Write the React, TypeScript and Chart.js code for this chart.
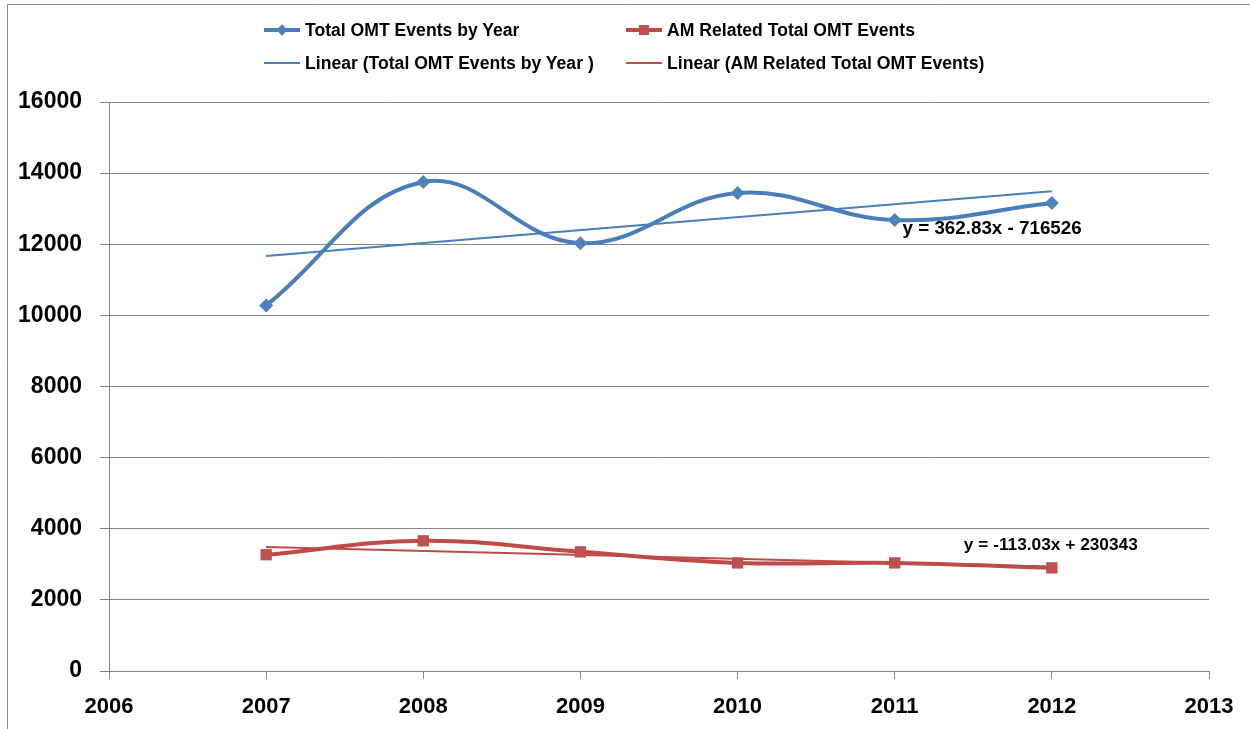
import React, { useEffect, useRef } from "react";
import { Chart, registerables } from "chart.js";

Chart.register(...registerables);

const years = [2007, 2008, 2009, 2010, 2011, 2012];
const totalEvents = [10280, 13750, 12030, 13440, 12680, 13160];
const amEvents = [3270, 3660, 3350, 3040, 3040, 2900];
const trendYears = [2007, 2012];
const totalTrend = [11670, 13490];
const amTrend = [3490, 2930];
const totalEquation = "y = 362.83x - 716526";
const amEquation = "y = -113.03x + 230343";
const legendLabels = [
  "Total OMT Events by Year",
  "AM Related Total OMT Events",
  "Linear (Total OMT Events by Year )",
  "Linear (AM Related Total OMT Events)",
];

const BLUE = "#4A7EBB";
const BLUE_FILL = "#4F81BD";
const RED = "#BE4B48";
const RED_FILL = "#C0504D";
const GRID = "#868686";
const FONT = '"Liberation Sans", Arial, sans-serif';

const pts = (xs: number[], ys: number[]) => xs.map((x, i) => ({ x, y: ys[i] }));

const frameAndLabels = {
  id: "frameAndLabels",
  afterDatasetsDraw(chart: any) {
    const { ctx, scales } = chart;
    ctx.save();
    ctx.strokeStyle = "#8c8c8c";
    ctx.lineWidth = 1;
    ctx.beginPath();
    ctx.moveTo(7.5, 729);
    ctx.lineTo(7.5, 4.5);
    ctx.lineTo(1250, 4.5);
    ctx.stroke();
    ctx.fillStyle = "#000";
    ctx.textAlign = "left";
    ctx.textBaseline = "middle";
    ctx.font = `bold 18.8px ${FONT}`;
    ctx.fillText(totalEquation, scales.x.getPixelForValue(2011.05), scales.y.getPixelForValue(12420));
    ctx.font = `bold 17.3px ${FONT}`;
    ctx.fillText(amEquation, scales.x.getPixelForValue(2011.44), scales.y.getPixelForValue(3550));
    ctx.restore();
  },
};

function LegendItem({ left, top, color, label, marker }: any) {
  return (
    <div style={{ position: "absolute", left, top, display: "flex", alignItems: "center", height: 24 }}>
      <div style={{ position: "relative", width: 40, height: 24 }}>
        <div
          style={{
            position: "absolute",
            left: 2,
            width: 36,
            top: marker ? 10 : 11,
            height: marker ? 4 : 2,
            background: color,
          }}
        />
        {marker === "diamond" && (
          <div
            style={{
              position: "absolute",
              left: 16,
              top: 8,
              width: 8,
              height: 8,
              background: BLUE_FILL,
              transform: "rotate(45deg)",
            }}
          />
        )}
        {marker === "square" && (
          <div style={{ position: "absolute", left: 15, top: 7, width: 10, height: 10, background: RED_FILL }} />
        )}
      </div>
      <span style={{ fontFamily: FONT, fontWeight: "bold", fontSize: 17.6, color: "#000", marginLeft: 3, whiteSpace: "nowrap" }}>
        {label}
      </span>
    </div>
  );
}

export default function App() {
  const ref = useRef<HTMLCanvasElement>(null);
  useEffect(() => {
    document.body.style.margin = "0";
    const chart = new Chart(ref.current as HTMLCanvasElement, {
      type: "line",
      data: {
        datasets: [
          {
            label: legendLabels[0],
            data: pts(years, totalEvents),
            borderColor: BLUE,
            backgroundColor: BLUE_FILL,
            borderWidth: 4,
            pointStyle: "rectRot",
            pointRadius: 7,
            pointBorderWidth: 0,
            pointBackgroundColor: BLUE_FILL,
            tension: 0.4,
          },
          {
            label: legendLabels[1],
            data: pts(years, amEvents),
            borderColor: RED,
            backgroundColor: RED_FILL,
            borderWidth: 4,
            pointStyle: "rect",
            pointRadius: 8,
            pointBorderWidth: 0,
            pointBackgroundColor: RED_FILL,
            tension: 0.4,
          },
          {
            label: legendLabels[2],
            data: pts(trendYears, totalTrend),
            borderColor: BLUE,
            borderWidth: 2,
            pointRadius: 0,
            tension: 0,
          },
          {
            label: legendLabels[3],
            data: pts(trendYears, amTrend),
            borderColor: RED,
            borderWidth: 2,
            pointRadius: 0,
            tension: 0,
          },
        ],
      },
      options: {
        animation: false,
        responsive: false,
        layout: { padding: { left: 7, right: 41, top: 102, bottom: 0 } },
        plugins: { legend: { display: false }, tooltip: { enabled: false } },
        scales: {
          x: {
            type: "linear",
            min: 2006,
            max: 2013,
            afterFit: (s: any) => {
              s.height = 58;
            },
            ticks: {
              stepSize: 1,
              callback: (v: any) => String(v),
              color: "#000",
              font: { family: FONT, size: 22, weight: "bold" },
              padding: 15,
              maxRotation: 0,
            },
            grid: { drawOnChartArea: false, drawTicks: true, tickLength: 8, color: GRID },
            border: { color: GRID, width: 1 },
          },
          y: {
            min: 0,
            max: 16000,
            afterFit: (s: any) => {
              s.width = 102;
            },
            ticks: {
              stepSize: 2000,
              callback: (v: any) => String(v),
              color: "#000",
              font: { family: FONT, size: 23, weight: "bold" },
              padding: 18,
            },
            grid: { color: GRID, lineWidth: 1, tickLength: 9 },
            border: { color: GRID, width: 1 },
          },
        },
      },
      plugins: [frameAndLabels],
    } as any);
    return () => chart.destroy();
  }, []);

  return (
    <div style={{ position: "relative", width: 1250, height: 729, background: "#fff" }}>
      <canvas ref={ref} width={1250} height={729} style={{ width: 1250, height: 729, display: "block" }} />
      <LegendItem left={262} top={18} color={BLUE} label={legendLabels[0]} marker="diamond" />
      <LegendItem left={624} top={18} color={RED} label={legendLabels[1]} marker="square" />
      <LegendItem left={262} top={51} color={BLUE} label={legendLabels[2]} />
      <LegendItem left={624} top={51} color={RED} label={legendLabels[3]} />
    </div>
  );
}
